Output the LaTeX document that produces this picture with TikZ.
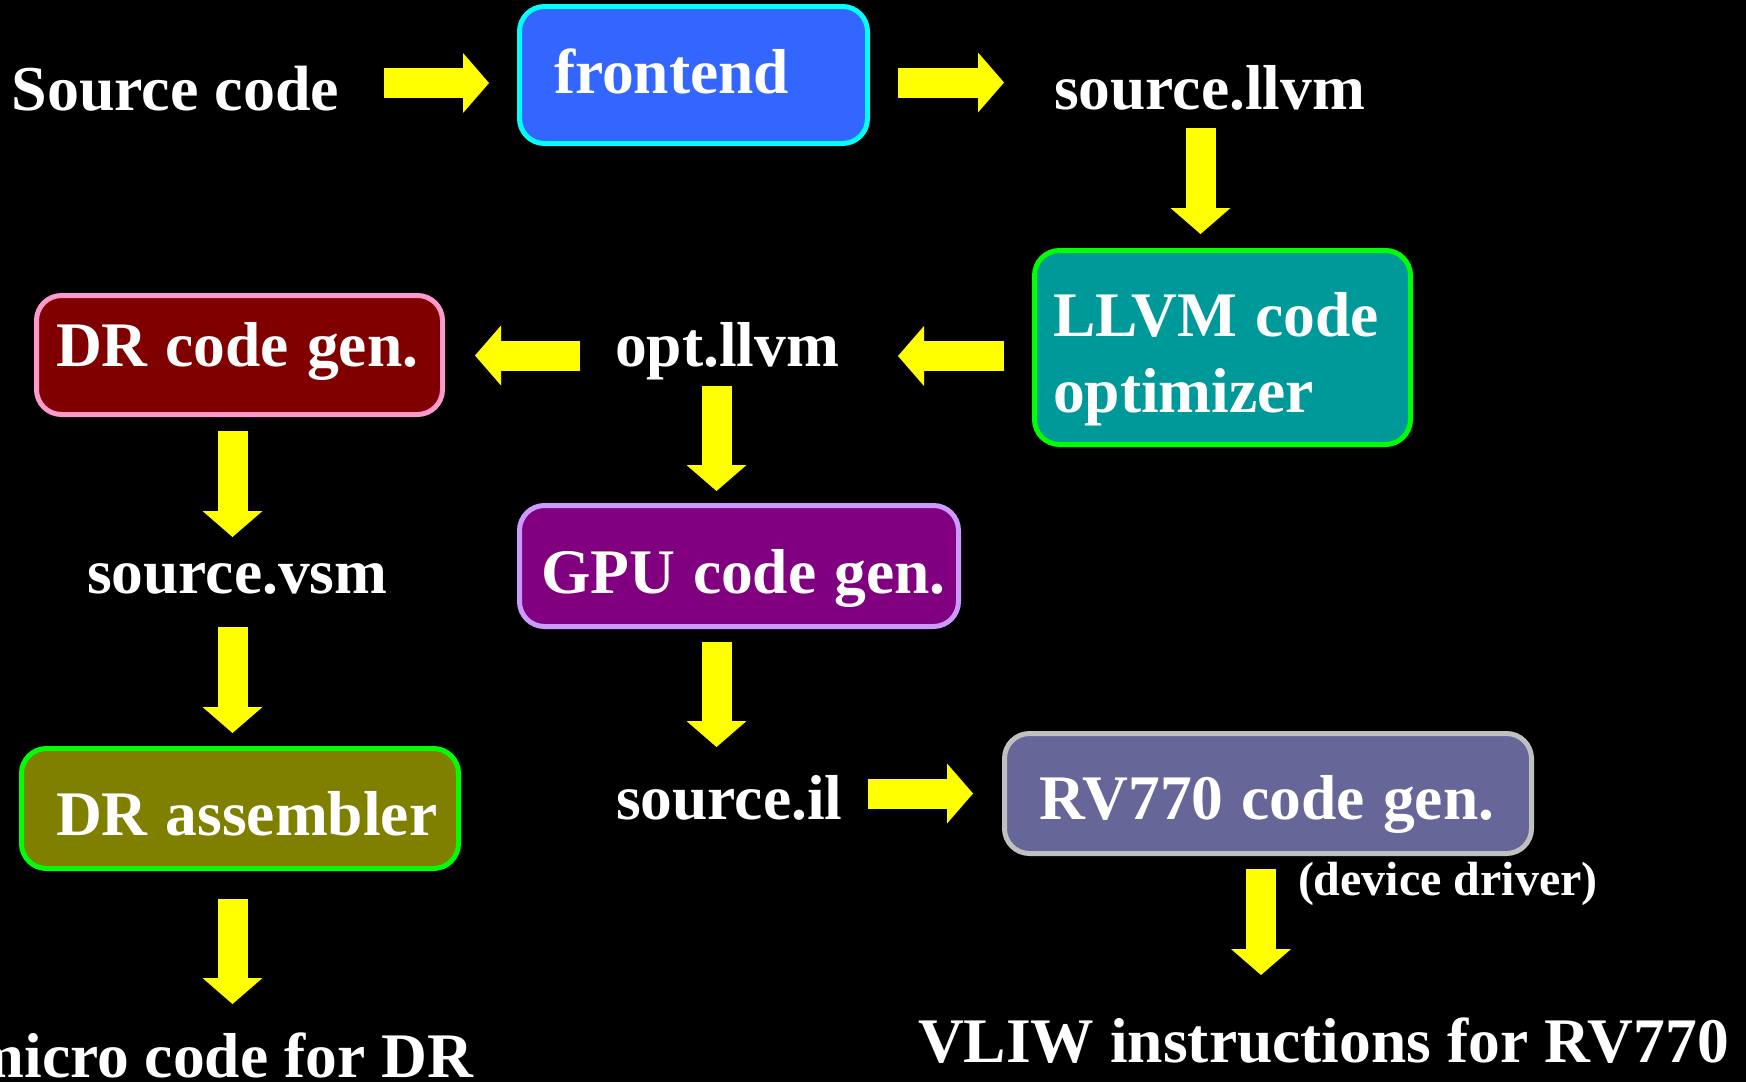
\documentclass[tikz,border=0pt]{standalone}
\usepackage{fontspec}
\setmainfont{Liberation Serif}
\usetikzlibrary{arrows.meta}
\definecolor{feFill}{HTML}{3366FF}
\definecolor{feLine}{HTML}{00FFFF}
\definecolor{optFill}{HTML}{009999}
\definecolor{greenLine}{HTML}{00FF00}
\definecolor{drFill}{HTML}{800000}
\definecolor{drLine}{HTML}{FF99CC}
\definecolor{gpuFill}{HTML}{800080}
\definecolor{gpuLine}{HTML}{CC99FF}
\definecolor{asmFill}{HTML}{808000}
\definecolor{rvFill}{HTML}{666699}
\definecolor{rvLine}{HTML}{C0C0C0}
\definecolor{arrowYellow}{HTML}{FFFF00}
\newcommand\diagfont{\fontsize{63.5}{76.5}\selectfont\bfseries}
\newcommand\srcfont{\fontsize{64}{77}\selectfont\bfseries}
\newcommand\ddfont{\fontsize{48}{58}\selectfont\bfseries}
\newcommand\wsp{\hspace*{18pt}}
\tikzset{
  box/.style 2 args={fill=#1, draw=#2, line width=5pt, rounded corners=25pt,
    text=white, font=\diagfont, align=left, inner ysep=0pt, outer sep=0pt,
    anchor=north west},
  txt/.style={text=white, inner sep=0pt, outer sep=0pt, anchor=base west, font=\diagfont},
  flow/.style={draw=arrowYellow, line width=30pt,
    -{Triangle[width=60pt,length=26pt,line width=0pt]}}
}
\begin{document}
\begin{tikzpicture}[x=1pt,y=-1pt]
\useasboundingbox (0,0) rectangle (1746,1082);
\fill[black] (0,0) rectangle (1746,1082);

% boxes
\node[box={feFill}{feLine}, inner xsep=34.5pt, text width=279pt, text height=86.5pt, text depth=50.5pt]
  (fe) at (519.5,6.5) {frontend};
\node[box={optFill}{greenLine}, inner xsep=18.5pt, text width=339pt, text height=85.5pt, text depth=108.5pt]
  (opt) at (1034.5,250.5) {\mbox{LLVM\wsp code}\\\mbox{optimizer}};
\node[box={drFill}{drLine}, inner xsep=19.5pt, text width=367pt, text height=70.5pt, text depth=48.5pt]
  (drcg) at (36.5,295.5) {\mbox{DR\wsp code\wsp gen.}};
\node[box={gpuFill}{gpuLine}, inner xsep=21.5pt, text width=396pt, text height=87.5pt, text depth=33.5pt]
  (gpu) at (519.5,505.5) {\mbox{GPU\wsp code\wsp gen.}};
\node[box={asmFill}{greenLine}, inner xsep=34.5pt, text width=368pt, text height=86.5pt, text depth=33.5pt]
  (asm) at (21.5,748.5) {\mbox{DR\wsp assembler}};
\node[box={rvFill}{rvLine}, inner xsep=34.5pt, text width=458pt, text height=85.5pt, text depth=34.5pt]
  (rv) at (1004.5,733.5) {\mbox{RV770\wsp code\wsp gen.}};

% plain texts
\node[txt, font=\srcfont] (src) at (11.5,110) {Source code};
\node[txt] (srcllvm) at (1054,109) {source.llvm};
\node[txt] (optllvm) at (615,366) {opt.llvm};
\node[txt] (vsm) at (87,593) {source.vsm};
\node[txt] (il) at (616,819) {source.il};
\node[txt, font=\ddfont] (dd) at (1298,895) {(device driver)};
\node[txt] (vliw) at (918,1062) {VLIW instructions for RV770};
\node[txt, anchor=base east] (micro) at (473,1077) {micro code for DR};

% arrow end points
\coordinate (a1s) at (384,83);    \coordinate (a1e) at (489,83);
\coordinate (a2s) at (898,82.5);  \coordinate (a2e) at (1004,82.5);
\coordinate (a3s) at (1200.5,128);\coordinate (a3e) at (1200.5,234);
\coordinate (a4s) at (1004,356);  \coordinate (a4e) at (898,356);
\coordinate (a5s) at (580,355.5); \coordinate (a5e) at (475,355.5);
\coordinate (a6s) at (716.5,386); \coordinate (a6e) at (716.5,491);
\coordinate (a7s) at (232.5,431); \coordinate (a7e) at (232.5,537);
\coordinate (a8s) at (232.5,627); \coordinate (a8e) at (232.5,733);
\coordinate (a9s) at (232.5,899); \coordinate (a9e) at (232.5,1004);
\coordinate (a10s) at (716.5,642);\coordinate (a10e) at (716.5,747);
\coordinate (a11s) at (868,793.5);\coordinate (a11e) at (973,793.5);
\coordinate (a12s) at (1261,869); \coordinate (a12e) at (1261,975);

\draw[flow] (a1s) -- (a1e);
\draw[flow] (a2s) -- (a2e);
\draw[flow] (a3s) -- (a3e);
\draw[flow] (a4s) -- (a4e);
\draw[flow] (a5s) -- (a5e);
\draw[flow] (a6s) -- (a6e);
\draw[flow] (a7s) -- (a7e);
\draw[flow] (a8s) -- (a8e);
\draw[flow] (a9s) -- (a9e);
\draw[flow] (a10s) -- (a10e);
\draw[flow] (a11s) -- (a11e);
\draw[flow] (a12s) -- (a12e);
\end{tikzpicture}
\end{document}
